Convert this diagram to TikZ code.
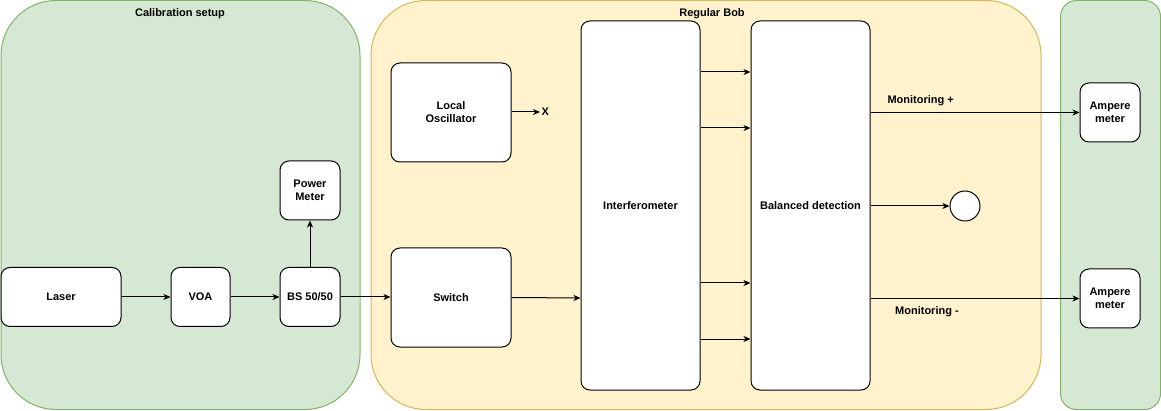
\documentclass[tikz,border=0pt]{standalone}
\usepackage{fontspec}
\setmainfont{Liberation Sans}
\usetikzlibrary{arrows.meta}
\definecolor{calfill}{HTML}{D5E8D4}
\definecolor{calline}{HTML}{82B366}
\definecolor{bobfill}{HTML}{FFF2CC}
\definecolor{bobline}{HTML}{D6B656}
\begin{document}
\begin{tikzpicture}[x=1pt,y=-1pt,line width=1pt,
  font=\fontsize{11}{13}\selectfont\bfseries,
  block/.style={draw,fill=white,rounded corners=9pt,align=center,inner sep=0pt},
  zone/.style={draw,rounded corners=#1,inner sep=0pt},
  arr/.style={-{Stealth[length=7pt,width=6pt,inset=2pt]}}]
\useasboundingbox (0,0) rectangle (1161,411);
\node[zone=55pt,fill=calfill,draw=calline,minimum width=359pt,minimum height=409pt] (cal) at (180.5,205) {};
\node[zone=55pt,fill=bobfill,draw=bobline,minimum width=670pt,minimum height=409pt] (bob) at (706,205) {};
\node[zone=16pt,fill=calfill,draw=calline,minimum width=100pt,minimum height=409pt] (meters) at (1110.5,205) {};
\node at (180,14) {Calibration setup};
\node at (712,14) {Regular Bob};
\node[block,minimum width=120pt,minimum height=59pt] (laser) at (61,297) {Laser};
\node[block,minimum width=59pt,minimum height=59pt] (voa) at (200.5,297) {VOA};
\node[block,minimum width=60pt,minimum height=59pt] (bs) at (310,297) {BS 50/50};
\node[block,minimum width=60pt,minimum height=59pt] (pm) at (310,190.5) {Power\\Meter};
\node[block,minimum width=120pt,minimum height=99pt] (lo) at (451,112.5) {Local\\Oscillator};
\coordinate (x) at (540,112);
\node[right,inner sep=1pt] at (x) {X};
\node[block,minimum width=120pt,minimum height=99pt] (switch) at (451,297.5) {Switch};
\node[block,minimum width=119pt,minimum height=369pt] (intf) at (640.5,205.5) {Interferometer};
\node[block,minimum width=119pt,minimum height=369pt] (bd) at (810.5,205.5) {Balanced detection};
\node[draw,fill=white,circle,minimum size=30pt,inner sep=0pt] (term) at (965,206) {};
\node[block,minimum width=60pt,minimum height=59pt] (amp1) at (1110,112.5) {Ampere\\meter};
\node[block,minimum width=60pt,minimum height=59pt] (amp2) at (1110,298.5) {Ampere\\meter};
\draw[arr] (laser) -- (voa);
\draw[arr] (voa) -- (bs);
\draw[arr] (bs) -- (pm);
\draw[arr] (bs) -- (switch.west |- bs);
\draw[arr] (lo.east |- x) -- (x);
\draw[arr] (switch.east) -- (intf.west |- 0,298);
\draw[arr] (intf.east |- 0,72) -- (bd.west |- 0,72);
\draw[arr] (intf.east |- 0,128) -- (bd.west |- 0,128);
\draw[arr] (intf.east |- 0,283) -- (bd.west |- 0,283);
\draw[arr] (intf.east |- 0,339) -- (bd.west |- 0,339);
\draw[arr] (bd.east |- amp1) -- node[pos=0.24,above=3pt] {Monitoring +} (amp1);
\draw[arr] (bd.east |- term) -- (term);
\draw[arr] (bd.east |- amp2) -- node[pos=0.27,below=4pt] {Monitoring -} (amp2);
\end{tikzpicture}
\end{document}
